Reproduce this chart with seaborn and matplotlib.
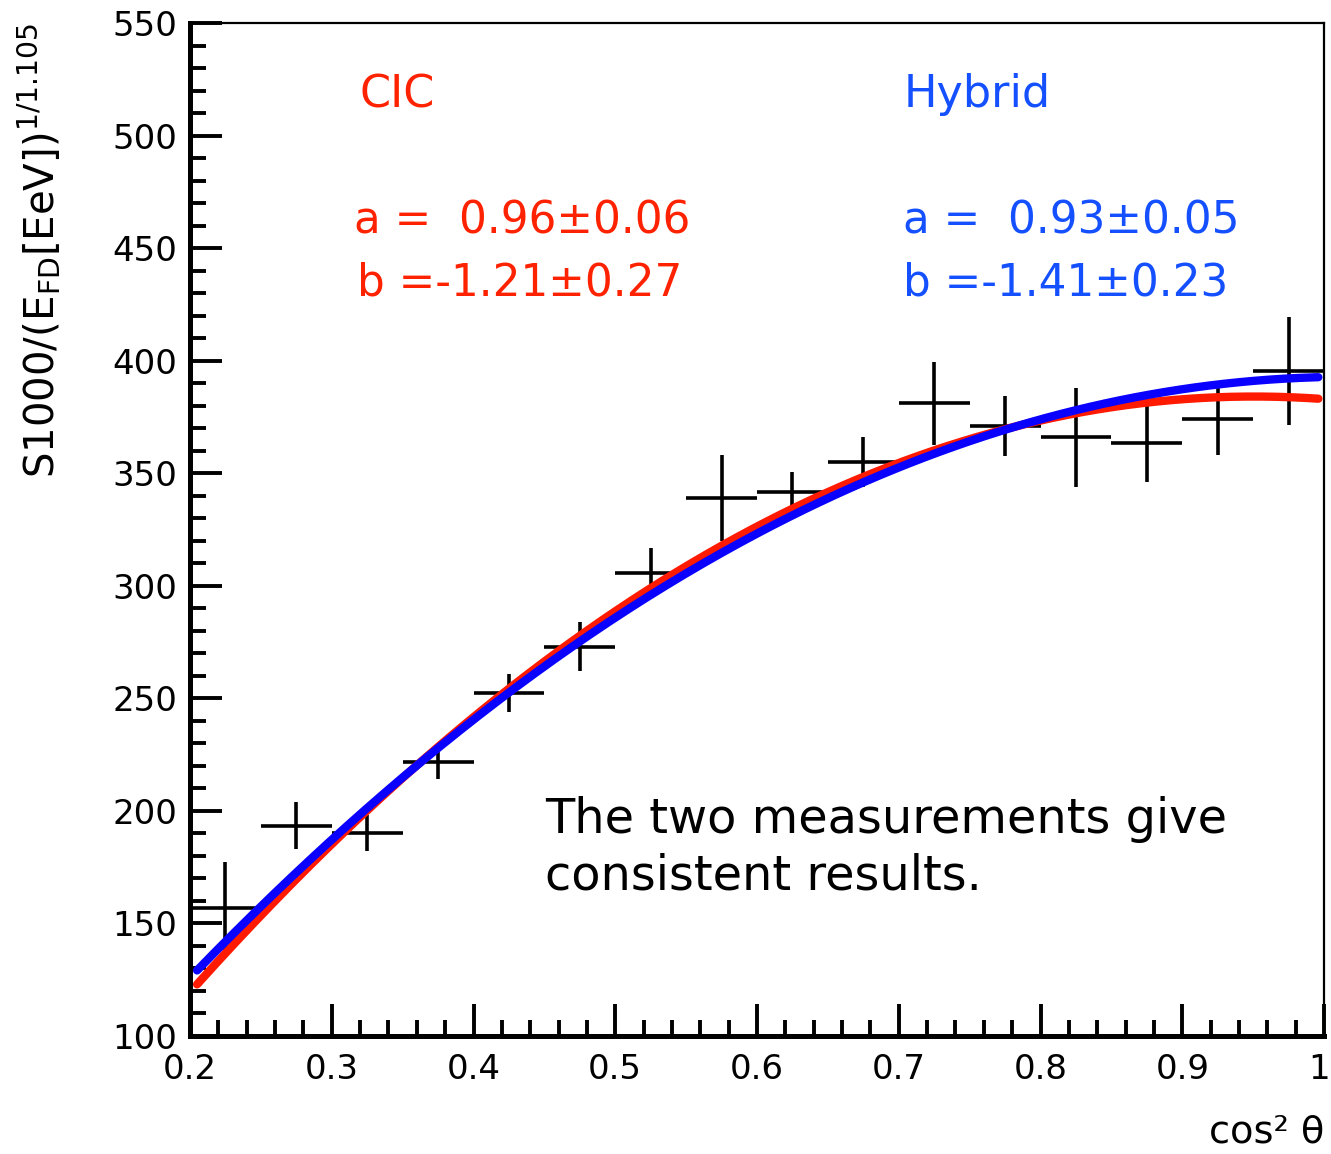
import numpy as np
import pandas as pd
import matplotlib
matplotlib.use("Agg")
import matplotlib.pyplot as plt
from matplotlib.ticker import MultipleLocator, FixedLocator
from matplotlib.transforms import ScaledTranslation
import seaborn as sns

# Binned measurement: S1000 / E^(1/1.105) versus cos^2(theta)
cos2_theta = [0.225, 0.275, 0.325, 0.375, 0.425, 0.475, 0.525, 0.575,
              0.625, 0.675, 0.725, 0.775, 0.825, 0.875, 0.925, 0.975]
s1000_norm = [157.0, 193.5, 190.0, 221.5, 252.5, 273.0, 305.7, 339.0,
              341.5, 355.0, 381.0, 371.0, 366.0, 363.5, 374.0, 395.5]
s1000_err = [20.5, 10.5, 8.0, 7.5, 8.5, 11.0, 11.0, 19.0,
             9.0, 11.0, 18.5, 13.5, 22.0, 17.5, 16.0, 24.0]
bin_half_width = 0.025

# Attenuation curves S38 * (1 + a x + b x^2), x = cos^2(theta) - cos^2(38 deg)
cos2_ref = np.cos(np.radians(38.0)) ** 2
red_curve = {"S38": 333.0, "a": 0.93, "b": -1.41}
blue_curve = {"S38": 330.0, "a": 0.96, "b": -1.21}
curve_range = (0.205, 0.996)

# Fit results quoted on the plot
cic_text = ["CIC", "a =  0.96\u00b10.06", "b =-1.21\u00b10.27"]
hybrid_text = ["Hybrid", "a =  0.93\u00b10.05", "b =-1.41\u00b10.23"]
note_text = "The two measurements give\nconsistent results."

x_ticks = [0.2, 0.3, 0.4, 0.5, 0.6, 0.7, 0.8, 0.9, 1.0]
x_tick_labels = ["0.2", "0.3", "0.4", "0.5", "0.6", "0.7", "0.8", "0.9", "1"]
y_ticks = [100, 150, 200, 250, 300, 350, 400, 450, 500, 550]


def attenuation(t, p):
    x = t - cos2_ref
    return p["S38"] * (1.0 + p["a"] * x + p["b"] * x ** 2)


sns.set_style("ticks")
plt.rcParams["font.family"] = ["DejaVu Sans"]
plt.rcParams["text.color"] = "black"
plt.rcParams["axes.labelcolor"] = "black"
plt.rcParams["xtick.color"] = "black"
plt.rcParams["ytick.color"] = "black"

fig = plt.figure(figsize=(13.31, 11.54), dpi=100)
ax = fig.add_axes([190 / 1331, 1 - 1036 / 1154, (1324 - 190) / 1331, (1036 - 23) / 1154])

# data points with error crosses
ax.errorbar(cos2_theta, s1000_norm, yerr=s1000_err, xerr=bin_half_width,
            fmt="none", ecolor="black", elinewidth=2.6, capsize=0, zorder=2)

t = np.linspace(curve_range[0], curve_range[1], 300)
curves = pd.DataFrame({
    "cos2": np.concatenate([t, t]),
    "S": np.concatenate([attenuation(t, red_curve), attenuation(t, blue_curve)]),
    "curve": ["red"] * len(t) + ["blue"] * len(t),
})
sns.lineplot(data=curves, x="cos2", y="S", hue="curve",
             palette={"red": "#ff1a00", "blue": "#0a00ff"},
             linewidth=6.0, legend=False, ax=ax, zorder=3, sort=False)

ax.set_xlim(0.2, 1.0)
ax.set_ylim(100, 550)

ax.xaxis.set_major_locator(FixedLocator(x_ticks))
ax.set_xticklabels(x_tick_labels)
ax.xaxis.set_minor_locator(MultipleLocator(0.02))
ax.yaxis.set_major_locator(FixedLocator(y_ticks))
ax.yaxis.set_minor_locator(MultipleLocator(10))

ax.tick_params(axis="both", which="major", direction="in", length=23, width=2.8,
               labelsize=24.5, top=False, right=False, color="black",
               labelcolor="black")
ax.tick_params(axis="both", which="minor", direction="in", length=11.5, width=2.8,
               top=False, right=False, color="black")
ax.tick_params(axis="x", which="major", pad=12)
ax.tick_params(axis="y", which="major", pad=9)

# keep the last x tick label inside the canvas
last_label = ax.get_xticklabels()[-1]
last_label.set_transform(last_label.get_transform()
                         + ScaledTranslation(-5 / 100, 0, fig.dpi_scale_trans))

for side in ["left", "bottom"]:
    ax.spines[side].set_linewidth(3.6)
for side in ["top", "right"]:
    ax.spines[side].set_linewidth(1.6)
    ax.spines[side].set_visible(True)
for sp in ax.spines.values():
    sp.set_color("black")
ax.set_facecolor("white")

ax.set_xlabel("cos\u00b2 \u03b8", fontsize=27.5, loc="right")
ax.xaxis.set_label_coords(1.0, -0.077)
ax.set_ylabel(r"S1000/(E$_{\mathregular{FD}}$[EeV])$^{\mathregular{1/1.105}}$",
              fontsize=29, loc="top")
ax.yaxis.set_label_coords(-0.112, 1.0)

red_txt = "#ff2200"
blue_txt = "#1450ff"
ax.text(0.1495, 0.929, cic_text[0], transform=ax.transAxes, color=red_txt,
        fontsize=32, va="center", ha="left")
ax.text(0.145, 0.805, cic_text[1], transform=ax.transAxes, color=red_txt,
        fontsize=31.5, va="center", ha="left")
ax.text(0.147, 0.743, cic_text[2], transform=ax.transAxes, color=red_txt,
        fontsize=31.5, va="center", ha="left")
ax.text(0.629, 0.929, hybrid_text[0], transform=ax.transAxes, color=blue_txt,
        fontsize=32, va="center", ha="left")
ax.text(0.629, 0.805, hybrid_text[1], transform=ax.transAxes, color=blue_txt,
        fontsize=31.5, va="center", ha="left")
ax.text(0.629, 0.743, hybrid_text[2], transform=ax.transAxes, color=blue_txt,
        fontsize=31.5, va="center", ha="left")

ax.text(0.313, 0.186, note_text, transform=ax.transAxes, color="black",
        fontsize=34.5, va="center", ha="left", linespacing=1.25)

fig.savefig("out.png", dpi=100, facecolor="white")
